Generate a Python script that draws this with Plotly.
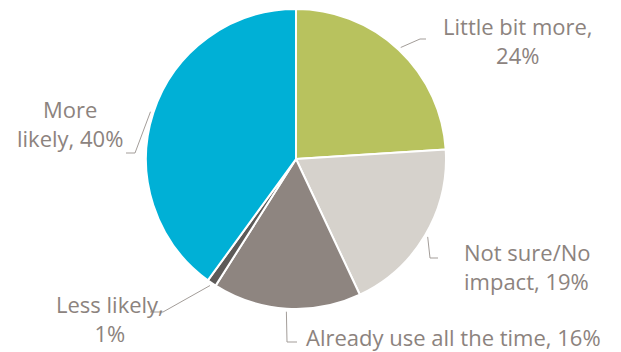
import math
import plotly.graph_objects as go

labels = ["Little bit more", "Not sure/No impact", "Already use all the time", "Less likely", "More likely"]
values = [24, 19, 16, 1, 40]
display_text = ["Little bit more,<br>24%", "Not sure/No<br>impact, 19%", "Already use all the time, 16%",
                "Less likely,<br>1%", "More<br>likely, 40%"]
colors = ["#b8c25e", "#d6d2cc", "#8e8580", "#5d5a58", "#00b0d6"]

W, H = 621, 352
CX, CY, R = 296, 159, 150
TEXT_COLOR = "#8c837e"
LINE_COLOR = "#a39d99"
FONT = "Open Sans"

# label layout (pixel positions of text and leader elbows)
label_pos = [
    dict(x=518, y=40, xanchor="center", align="center", elbow=[(420, 39), (426, 39)]),
    dict(x=462, y=266, xanchor="left", align="left", elbow=[(430, 258), (438, 258)]),
    dict(x=304, y=337, xanchor="left", align="left", elbow=[(287, 342), (297, 342)]),
    dict(x=110, y=318, xanchor="center", align="center", elbow=[(163, 312), (150, 312)]),
    dict(x=70, y=123, xanchor="center", align="center", elbow=[(135, 153), (126, 153)]),
]

fig = go.Figure()
fig.add_trace(go.Pie(
    labels=labels, values=values, sort=False, direction="clockwise", rotation=0,
    marker=dict(colors=colors, line=dict(color="white", width=2)),
    textinfo="none", hoverinfo="label+percent", showlegend=False,
    domain=dict(x=[(CX - R) / W, (CX + R) / W], y=[(H - CY - R) / H, (H - CY + R) / H]),
))

total = sum(values)
cum = 0
shapes = []
annotations = []
for v, txt, lp in zip(values, display_text, label_pos):
    mid = (cum + v / 2) / total * 2 * math.pi
    cum += v
    sx = CX + (R + 3) * math.sin(mid)
    sy = CY - (R + 3) * math.cos(mid)
    pts = [(sx, sy)] + lp["elbow"]
    path = "M " + " L ".join(f"{px},{py}" for px, py in pts)
    shapes.append(dict(type="path", path=path, xref="x", yref="y",
                       line=dict(color=LINE_COLOR, width=1), layer="above"))
    annotations.append(dict(x=lp["x"], y=lp["y"], xref="x", yref="y", text=txt, showarrow=False,
                            xanchor=lp["xanchor"], yanchor="middle", align=lp["align"],
                            font=dict(family=FONT, size=22, color=TEXT_COLOR)))

fig.update_layout(
    width=W, height=H, margin=dict(l=0, r=0, t=0, b=0),
    paper_bgcolor="white", plot_bgcolor="rgba(0,0,0,0)",
    xaxis=dict(range=[0, W], visible=False, fixedrange=True),
    yaxis=dict(range=[H, 0], visible=False, fixedrange=True),
    shapes=shapes, annotations=annotations,
)

fig.write_html("out.html", config={"displayModeBar": False},
               post_script="document.body.style.margin='0';document.body.style.overflow='hidden';")
